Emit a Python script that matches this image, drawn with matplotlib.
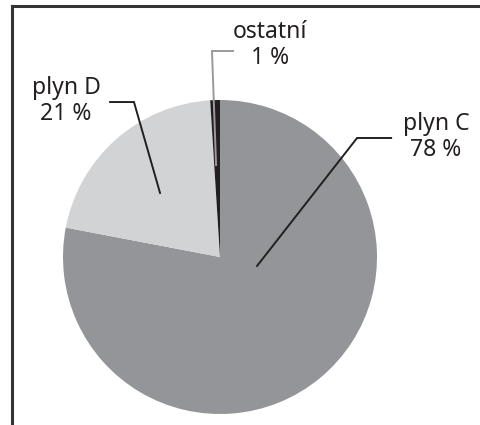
import matplotlib
matplotlib.use('Agg')
from matplotlib import pyplot as plt
from matplotlib.lines import Line2D

# data (clockwise from top)
labels = ['plyn C', 'plyn D', 'ostatní']
shares = [78, 21, 1]
colors = ['#939598', '#d1d3d4', '#231f20']

# label placement: text centre, elbow of leader, end of leader (pie units, r = 1)
text_pos = [(1.375, 0.765), (-0.98, 0.995), (0.32, 1.35)]
leader_start = [(1.09, 0.758), (-0.70, 0.987), (0.083, 1.312)]
leader_elbow = [(0.873, 0.758), (-0.548, 0.987), (-0.051, 1.312)]
leader_end = [(0.236, -0.057), (-0.382, 0.408), (-0.025, 0.586)]
leader_colors = ['#231f20', '#231f20', '#9a9a9a']

plt.rcParams['font.family'] = ['Noto Sans', 'DejaVu Sans']

W, H = 480, 425
fig = plt.figure(figsize=(W / 100, H / 100), dpi=100)
ax = fig.add_axes([0, 0, 1, 1])

ax.pie(shares, colors=colors, startangle=90, counterclock=False,
       radius=1, wedgeprops={'linewidth': 0})

# pie centre at (220, 257) px from top-left, radius 157 px
r = 157
cx, cy = 220, 257
ax.set_aspect('auto')
ax.set_xlim(-cx / r, (W - cx) / r)
ax.set_ylim(-(H - cy) / r, cy / r)
ax.axis('off')

for i, lab in enumerate(labels):
    pts = [leader_start[i], leader_elbow[i], leader_end[i]]
    ax.plot([p[0] for p in pts], [p[1] for p in pts], color=leader_colors[i], lw=1.4,
            solid_joinstyle='miter')
    ax.text(text_pos[i][0], text_pos[i][1], f'{lab}\n{shares[i]} %', ha='center', va='center',
            fontsize=16.5, color='#231f20', linespacing=1.1)

# frame: top and left edges only
fig.add_artist(Line2D([11.5 / W, 1], [1 - 5.5 / H, 1 - 5.5 / H], color='#333333', lw=2.2,
                      transform=fig.transFigure))
fig.add_artist(Line2D([11.5 / W, 11.5 / W], [0, 1 - 5.5 / H], color='#333333', lw=2.2,
                      transform=fig.transFigure))

fig.savefig('out.png', dpi=100)
